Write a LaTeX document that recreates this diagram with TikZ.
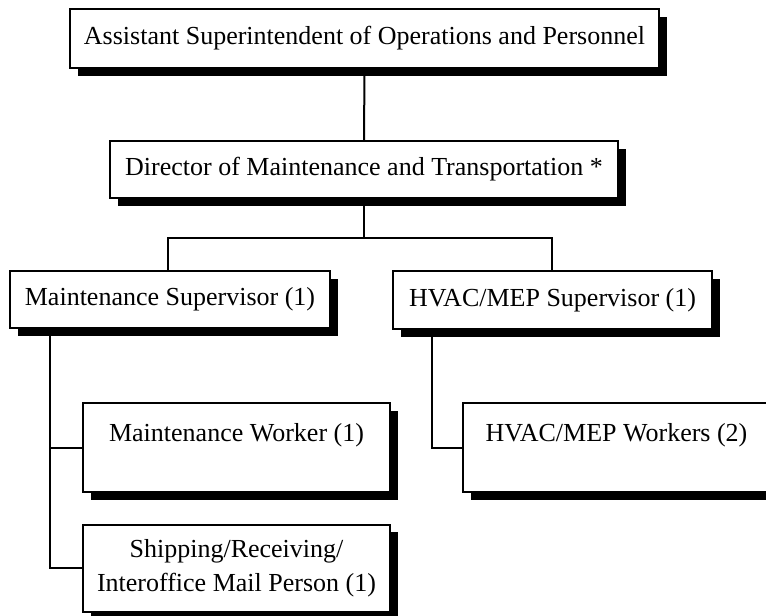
\documentclass[tikz,border=0pt]{standalone}
\usepackage{fontspec}
\setmainfont{Liberation Serif}
\usetikzlibrary{shadows}
\begin{document}
\begin{tikzpicture}[x=1pt,y=-1pt,
  orgbox/.style={draw=black, line width=2pt, fill=white, rectangle,
    inner sep=0pt, font=\fontsize{26}{34}\selectfont,
    general shadow={fill=black, shadow xshift=7.5pt, shadow yshift=-7.5pt}},
  tallbox/.style={orgbox, inner ysep=5pt, text height=33pt, text depth=46pt},
  link/.style={draw=black, line width=2pt}]
\useasboundingbox (0,0) rectangle (766,616);
\clip (0,0) rectangle (766,616);

% top levels
\node[orgbox, minimum width=589pt, minimum height=59pt] (aso) at (364.5,38.5)
  {Assistant Superintendent of Operations and Personnel};
\node[orgbox, minimum width=508pt, minimum height=57pt] (dmt) at (364,169.5)
  {Director of Maintenance and Transportation *};

% supervisors
\node[orgbox, minimum width=320pt, minimum height=57pt] (ms) at (170,299.5)
  {Maintenance Supervisor (1)};
\node[orgbox, minimum width=319pt, minimum height=58pt] (hs) at (552.5,300)
  {HVAC/MEP Supervisor (1)};

% workers
\node[tallbox, minimum width=307pt, minimum height=89pt] (mw) at (236.5,447.5)
  {Maintenance Worker (1)};
\node[orgbox, minimum width=307pt, minimum height=87pt, align=center] (sr) at (236.5,568)
  {Shipping/Receiving/\\Interoffice Mail Person (1)};
\node[tallbox, minimum width=307pt, minimum height=89pt] (hw) at (616.5,447.5)
  {HVAC/MEP Workers (2)};

% connector routing points
\coordinate (bus) at (364,238);
\coordinate (busL) at (168,238);
\coordinate (busR) at (552,238);
\coordinate (msdrop) at (50,328);
\coordinate (hsdrop) at (432,329);

\draw[link] (aso.south) -- (dmt.north);
\draw[link] (dmt.south) -- (bus);
\draw[link] (ms.north -| busL) -- (busL) -- (busR) -- (hs.north -| busR);
\draw[link] (msdrop) |- (sr.west);
\draw[link] (mw.west) -- (mw.west -| msdrop);
\draw[link] (hsdrop) |- (hw.west);
\end{tikzpicture}
\end{document}
